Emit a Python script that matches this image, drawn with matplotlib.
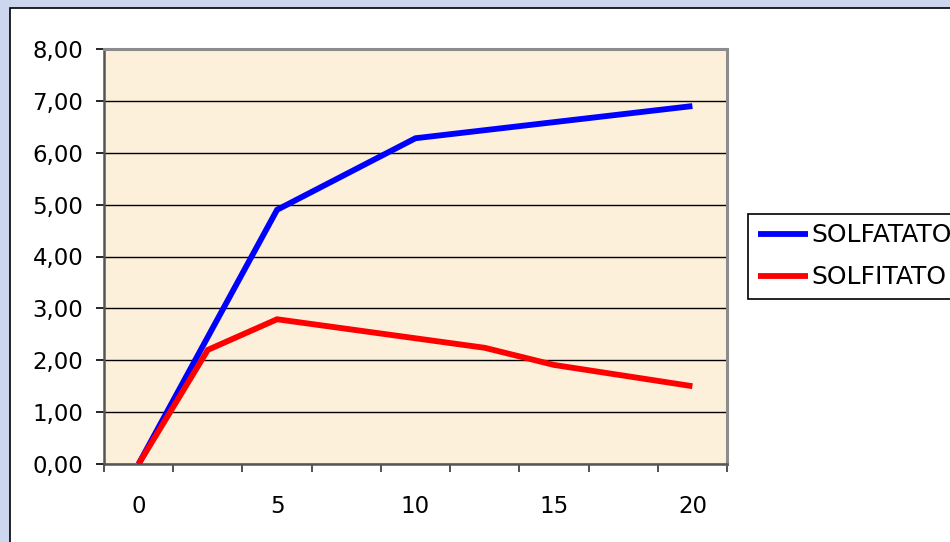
import matplotlib
matplotlib.use("Agg")
import matplotlib.pyplot as plt
from matplotlib.patches import Rectangle
import numpy as np

# ---- data ----
categories = [0, 2.5, 5, 7.5, 10, 12.5, 15, 17.5, 20]
solfatato = [0.00, None, 4.90, None, 6.28, None, None, None, 6.90]
solfitato = [0.00, 2.20, 2.79, None, None, 2.24, 1.91, None, 1.50]
series_names = ["SOLFATATO", "SOLFITATO"]
series_colors = ["#0000FF", "#FF0000"]
x_labels = ["0", "5", "10", "15", "20"]
y_ticks = [0, 1, 2, 3, 4, 5, 6, 7, 8]

plt.rcParams['font.family'] = ['DejaVu Sans']

W, H = 950, 542
fig = plt.figure(figsize=(W / 100, H / 100), dpi=100)
fig.patch.set_facecolor('#cdd6ef')

# white chart area
fig.patches.append(Rectangle((10 / W, -0.1), 1.2, 1 - 8 / H + 0.1,
                             transform=fig.transFigure, facecolor='white',
                             edgecolor='black', linewidth=1.2, zorder=-10))

left, right, top, bottom = 104, 727, 49, 464
ax = fig.add_axes([left / W, 1 - bottom / H, (right - left) / W, (bottom - top) / H])
ax.set_zorder(1)
ax.set_facecolor('#fcf0da')

idx = np.arange(len(categories))
for vals, name, col in zip([solfatato, solfitato], series_names, series_colors):
    xs = [i for i, v in zip(idx, vals) if v is not None]
    ys = [v for v in vals if v is not None]
    ax.plot(xs, ys, color=col, linewidth=4.2, label=name, zorder=3,
            solid_capstyle='butt', solid_joinstyle='miter')

ax.set_xlim(-0.5, len(categories) - 0.5)
ax.set_ylim(0, 8)
ax.set_yticks(y_ticks)
ax.set_yticklabels([f"{v:.2f}".replace('.', ',') for v in y_ticks], fontsize=16.5)
ax.yaxis.grid(True, color='black', linewidth=1.0, zorder=1)
ax.set_axisbelow(True)

ax.set_xticks(np.arange(len(categories) + 1) - 0.5)
ax.set_xticklabels([])
ax.set_xticks(idx[::2], minor=True)
ax.set_xticklabels(x_labels, minor=True, fontsize=16.5)
ax.tick_params(axis='x', which='minor', length=0, pad=22)
ax.tick_params(axis='x', which='major', length=5.8, width=1.2, color='#333333', direction='out')
ax.tick_params(axis='y', length=5.8, width=1.2, color='black', pad=9)

for s in ['left', 'bottom']:
    ax.spines[s].set_color('#555555')
    ax.spines[s].set_linewidth(1.8)
for s in ['top', 'right']:
    ax.spines[s].set_color('#8c8c8c')
    ax.spines[s].set_linewidth(2.2)

leg = fig.legend(loc='upper left', bbox_to_anchor=(748 / W, 1 - 214 / H),
                 bbox_transform=fig.transFigure, borderaxespad=0,
                 frameon=True, fancybox=False, edgecolor='black', framealpha=1,
                 fontsize=18, handlelength=2.0, handletextpad=0.15,
                 borderpad=0.38, labelspacing=0.72)
leg.get_frame().set_linewidth(1.2)
leg.set_zorder(5)
for line in leg.get_lines():
    line.set_linewidth(4.2)

fig.savefig('out.png', dpi=100, facecolor=fig.get_facecolor())
